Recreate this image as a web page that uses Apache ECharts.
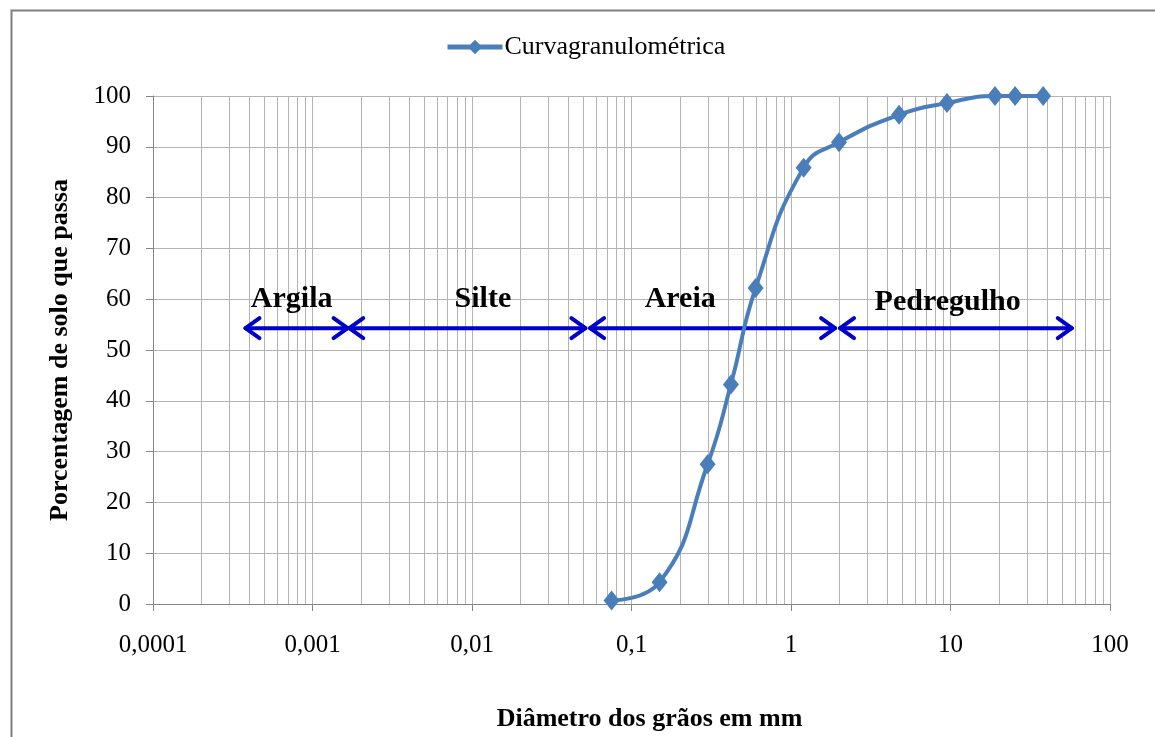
<!DOCTYPE html>
<html>
<head>
<meta charset="utf-8">
<script src="https://cdn.jsdelivr.net/npm/echarts@6/dist/echarts.min.js"></script>
<style>
html,body{margin:0;padding:0;background:#fff;}
#chart{width:1155px;height:737px;}
</style>
</head>
<body>
<div id="chart"></div>
<script>
// ---- data ----
const seriesName = 'Curvagranulométrica';
const diameters = [0.075, 0.15, 0.3, 0.42, 0.6, 1.2, 2.0, 4.76, 9.5, 19.0, 25.4, 38.1];
const passing   = [0.7, 4.3, 27.5, 43.2, 62.2, 85.9, 90.9, 96.3, 98.6, 100, 100, 100];

const xTickLabels = ['0,0001', '0,001', '0,01', '0,1', '1', '10', '100'];
const decades = [0.0001, 0.001, 0.01, 0.1, 1, 10];
const minorMultipliers = [2, 3, 4, 5, 6, 7, 8, 9];

const zoneNames  = ['Argila', 'Silte', 'Areia', 'Pedregulho'];
const zoneStart  = [0.00038, 0.0017, 0.055, 2.03];
const zoneEnd    = [0.00166, 0.0514, 1.89, 57.6];
const zoneArrowY = [54.3, 54.3, 54.3, 54.3];
const zoneLabelX = [0.00074, 0.0117, 0.202, 9.6];
const zoneLabelY = [60.0, 60.0, 60.0, 59.4];

// ---- build ----
const minorGrid = [];
decades.forEach(d => minorMultipliers.forEach(m => minorGrid.push([d * m, 0])));

const zoneData = zoneNames.map((n, i) => [zoneStart[i], zoneEnd[i], zoneArrowY[i], zoneLabelX[i], zoneLabelY[i], i]);

const FONT = '"Liberation Serif", "Times New Roman", serif';
const GRID_COLOR = '#b3b3b3';
const AXIS_COLOR = '#868686';
const BLUE = '#4A7EBB';
const ARROW = '#0000CC';

const chart = echarts.init(document.getElementById('chart'));
chart.setOption({
  backgroundColor: '#ffffff',
  animation: false,
  graphic: [{
    type: 'rect', left: 9, top: 8, z: 100, silent: true,
    shape: { width: 1200, height: 800 },
    style: { fill: 'none', stroke: '#808080', lineWidth: 2 }
  }],
  legend: {
    data: [seriesName],
    left: 445, top: 34, padding: 0,
    itemWidth: 55, itemHeight: 18, itemGap: 10,
    lineStyle: { width: 5 },
    textStyle: { fontFamily: FONT, fontSize: 26, color: '#000', padding: [0, 0, 0, -3] }
  },
  grid: { left: 153, right: 45, top: 96, bottom: 130, containLabel: false },
  xAxis: {
    type: 'log', logBase: 10, min: 0.0001, max: 100,
    name: 'Diâmetro dos grãos em mm',
    nameLocation: 'middle', nameGap: 102,
    nameTextStyle: { fontFamily: FONT, fontSize: 26, fontWeight: 'bold', color: '#000', padding: [0, 0, 0, 36] },
    axisLine: { show: true, onZero: false, lineStyle: { color: AXIS_COLOR, width: 1 } },
    axisTick: { show: true, length: 7, lineStyle: { color: AXIS_COLOR } },
    axisLabel: {
      margin: 29, fontFamily: FONT, fontSize: 25, color: '#000',
      formatter: (v, i) => xTickLabels[i] !== undefined ? xTickLabels[i] : ''
    },
    splitLine: { show: true, lineStyle: { color: GRID_COLOR, width: 1 } },
    minorTick: { show: false }, minorSplitLine: { show: false }
  },
  yAxis: {
    type: 'value', min: 0, max: 100, interval: 10,
    name: 'Porcentagem de solo que passa',
    nameLocation: 'middle', nameGap: 80, nameRotate: 90,
    nameTextStyle: { fontFamily: FONT, fontSize: 26, fontWeight: 'bold', color: '#000' },
    axisLine: { show: true, lineStyle: { color: AXIS_COLOR, width: 1 } },
    axisTick: { show: true, length: 7, lineStyle: { color: AXIS_COLOR } },
    axisLabel: { margin: 22, fontFamily: FONT, fontSize: 25, color: '#000' },
    splitLine: { show: true, lineStyle: { color: GRID_COLOR, width: 1 } }
  },
  series: [
    {
      type: 'custom', name: 'minorGrid', silent: true, z: 1,
      data: minorGrid,
      encode: { x: 0, y: 1 },
      renderItem: function (params, api) {
        const p0 = api.coord([api.value(0), 0]);
        const p1 = api.coord([api.value(0), 100]);
        return {
          type: 'line',
          shape: { x1: Math.round(p0[0]) + 0.5, y1: p0[1], x2: Math.round(p0[0]) + 0.5, y2: p1[1] },
          style: { stroke: GRID_COLOR, lineWidth: 1 }
        };
      }
    },
    {
      type: 'custom', name: 'zones', silent: true, z: 3,
      data: zoneData,
      encode: { x: [0, 1], y: 2 },
      renderItem: function (params, api) {
        const a = api.coord([api.value(0), api.value(2)]);
        const b = api.coord([api.value(1), api.value(2)]);
        const t = api.coord([api.value(3), api.value(4)]);
        const idx = api.value(5);
        const hx = 14, hy = 10;
        const st = { stroke: ARROW, lineWidth: 4, fill: null, lineCap: 'round', lineJoin: 'round' };
        return {
          type: 'group',
          children: [
            { type: 'line', shape: { x1: a[0], y1: a[1], x2: b[0], y2: b[1] }, style: st },
            { type: 'polyline', shape: { points: [[a[0] + hx, a[1] - hy], [a[0], a[1]], [a[0] + hx, a[1] + hy]] }, style: st },
            { type: 'polyline', shape: { points: [[b[0] - hx, b[1] - hy], [b[0], b[1]], [b[0] - hx, b[1] + hy]] }, style: st },
            { type: 'text', x: t[0], y: t[1],
              style: { text: zoneNames[idx], fontFamily: FONT, fontSize: 30, fontWeight: 'bold', fill: '#000', align: 'center', verticalAlign: 'middle' } }
          ]
        };
      }
    },
    {
      type: 'line', name: seriesName, z: 4,
      data: diameters.map((d, i) => [d, passing[i]]),
      smooth: 0.5,
      symbol: 'diamond', symbolSize: [16, 20],
      lineStyle: { color: BLUE, width: 4 },
      itemStyle: { color: BLUE }
    }
  ]
});
</script>
</body>
</html>
